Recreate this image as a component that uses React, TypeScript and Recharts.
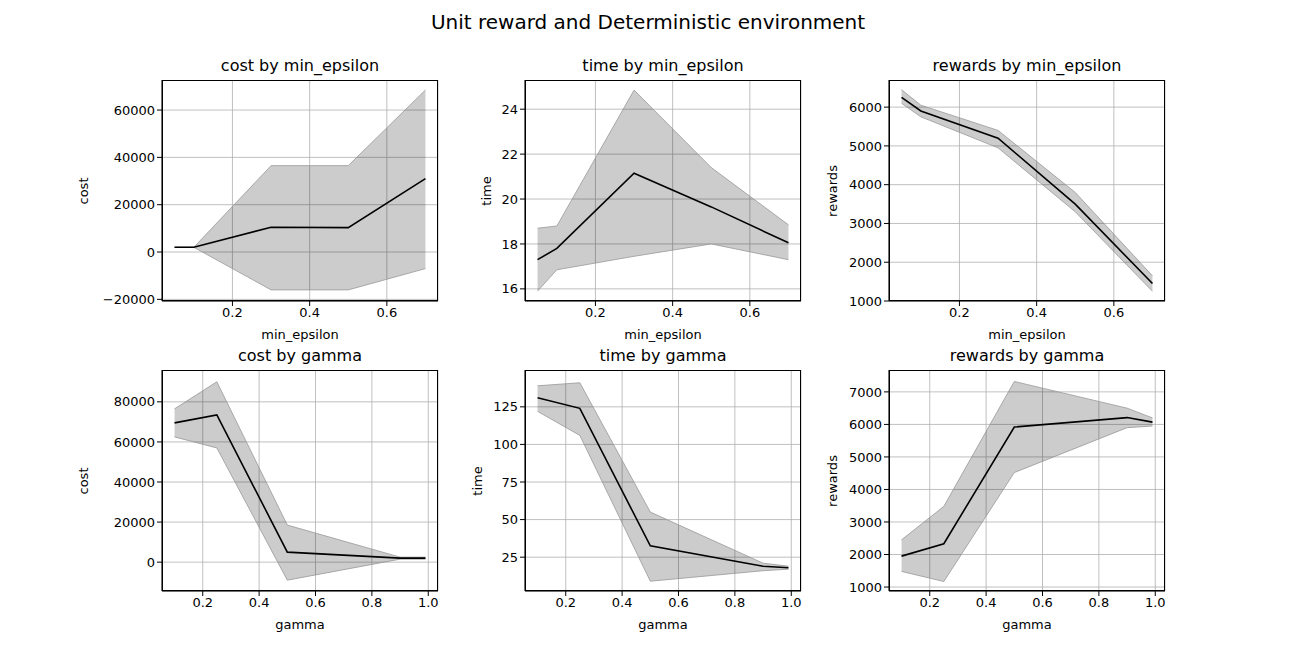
import { Area, CartesianGrid, ComposedChart, Line, XAxis, YAxis } from "recharts";

const EPS = [0.05, 0.1, 0.3, 0.5, 0.7];
const GAMMA = [0.1, 0.25, 0.5, 0.9, 0.99];

const COST_EPS_MEAN = [2000, 2000, 10500, 10300, 31000];
const COST_EPS_LO = [2000, 2000, -16000, -16000, -7000];
const COST_EPS_HI = [2000, 2000, 36500, 36500, 68500];

const TIME_EPS_MEAN = [17.3, 17.8, 21.15, 19.65, 18.05];
const TIME_EPS_LO = [15.9, 16.85, 17.45, 18.0, 17.3];
const TIME_EPS_HI = [18.7, 18.8, 24.85, 21.4, 18.85];

const REW_EPS_MEAN = [6250, 5900, 5200, 3500, 1450];
const REW_EPS_LO = [6100, 5750, 4950, 3300, 1250];
const REW_EPS_HI = [6450, 6050, 5400, 3800, 1650];

const COST_G_MEAN = [69500, 73500, 5000, 2000, 2000];
const COST_G_LO = [62500, 57000, -9000, 1500, 1500];
const COST_G_HI = [76500, 90000, 18500, 2500, 2500];

const TIME_G_MEAN = [131, 124, 32.5, 19, 18];
const TIME_G_LO = [122, 106, 9, 16, 17];
const TIME_G_HI = [139, 141, 55, 21, 19];

const REW_G_MEAN = [1950, 2330, 5920, 6210, 6070];
const REW_G_LO = [1480, 1170, 4520, 5900, 5950];
const REW_G_HI = [2450, 3480, 7320, 6500, 6200];

const EPS_TICKS = [0.2, 0.4, 0.6];
const GAMMA_TICKS = [0.2, 0.4, 0.6, 0.8, 1.0];

const FONT = "DejaVu Sans, sans-serif";

type Panel = {
  title: string;
  xLabel: string;
  yLabel: string;
  xs: number[];
  mean: number[];
  lo: number[];
  hi: number[];
  xDomain: [number, number];
  xTicks: number[];
  yDomain: [number, number];
  yTicks: number[];
  left: number;
  top: number;
  yLabelX: number;
};

const panels: Panel[] = [
  { title: "cost by min_epsilon", xLabel: "min_epsilon", yLabel: "cost", xs: EPS, mean: COST_EPS_MEAN, lo: COST_EPS_LO, hi: COST_EPS_HI, xDomain: [0.0175, 0.7325], xTicks: EPS_TICKS, yDomain: [-20700, 72700], yTicks: [-20000, 0, 20000, 40000, 60000], left: 162, top: 80, yLabelX: 83 },
  { title: "time by min_epsilon", xLabel: "min_epsilon", yLabel: "time", xs: EPS, mean: TIME_EPS_MEAN, lo: TIME_EPS_LO, hi: TIME_EPS_HI, xDomain: [0.0175, 0.7325], xTicks: EPS_TICKS, yDomain: [15.46, 25.3], yTicks: [16, 18, 20, 22, 24], left: 525, top: 80, yLabelX: 486 },
  { title: "rewards by min_epsilon", xLabel: "min_epsilon", yLabel: "rewards", xs: EPS, mean: REW_EPS_MEAN, lo: REW_EPS_LO, hi: REW_EPS_HI, xDomain: [0.0175, 0.7325], xTicks: EPS_TICKS, yDomain: [1000, 6700], yTicks: [1000, 2000, 3000, 4000, 5000, 6000], left: 889, top: 80, yLabelX: 832 },
  { title: "cost by gamma", xLabel: "gamma", yLabel: "cost", xs: GAMMA, mean: COST_G_MEAN, lo: COST_G_LO, hi: COST_G_HI, xDomain: [0.0555, 1.0345], xTicks: GAMMA_TICKS, yDomain: [-14400, 95900], yTicks: [0, 20000, 40000, 60000, 80000], left: 162, top: 370, yLabelX: 83 },
  { title: "time by gamma", xLabel: "gamma", yLabel: "time", xs: GAMMA, mean: TIME_G_MEAN, lo: TIME_G_LO, hi: TIME_G_HI, xDomain: [0.0555, 1.0345], xTicks: GAMMA_TICKS, yDomain: [2.5, 149.5], yTicks: [25, 50, 75, 100, 125], left: 525, top: 370, yLabelX: 477 },
  { title: "rewards by gamma", xLabel: "gamma", yLabel: "rewards", xs: GAMMA, mean: REW_G_MEAN, lo: REW_G_LO, hi: REW_G_HI, xDomain: [0.0555, 1.0345], xTicks: GAMMA_TICKS, yDomain: [878, 7673], yTicks: [1000, 2000, 3000, 4000, 5000, 6000, 7000], left: 889, top: 370, yLabelX: 832 },
];

const PW = 276;
const PH = 221;
const YW = 80;
const XH = 30;

const fmtY = (v: number) => (v < 0 ? "\u2212" + Math.abs(v) : String(v));

function SubPlot({ p }: { p: Panel }) {
  const data = p.xs.map((x, i) => ({ x, mean: p.mean[i], band: [p.lo[i], p.hi[i]] }));
  const tick = { fill: "#000", fontSize: 13, fontFamily: FONT };
  return (
    <>
      <div style={{ position: "absolute", left: p.left, top: p.top - 24, width: PW, textAlign: "center", fontSize: 16, fontFamily: FONT }}>
        {p.title}
      </div>
      <div style={{ position: "absolute", left: p.left - YW, top: p.top }}>
        <ComposedChart width={YW + PW + 10} height={PH + XH} data={data} margin={{ top: 0, right: 10, bottom: 0, left: 0 }}>
          <CartesianGrid stroke="#b0b0b0" strokeWidth={0.8} />
          <XAxis dataKey="x" type="number" domain={p.xDomain} ticks={p.xTicks} allowDataOverflow height={XH}
            tick={tick} tickFormatter={(v: number) => v.toFixed(1)} tickSize={5} stroke="#000" />
          <YAxis type="number" domain={p.yDomain} ticks={p.yTicks} allowDataOverflow width={YW}
            tick={tick} tickFormatter={fmtY} tickSize={5} stroke="#000" />
          <Area dataKey="band" type="linear" fill="#000" fillOpacity={0.2} stroke="#999" strokeOpacity={0.8} strokeWidth={1} isAnimationActive={false} />
          <Line dataKey="mean" type="linear" stroke="#000" strokeWidth={1.6} dot={false} isAnimationActive={false} />
        </ComposedChart>
      </div>
      <div style={{ position: "absolute", left: p.left, top: p.top, width: PW, height: PH, border: "1px solid #000", boxSizing: "border-box", pointerEvents: "none" }} />
      <div style={{ position: "absolute", left: p.left, top: p.top + PH + 26, width: PW, textAlign: "center", fontSize: 13, fontFamily: FONT }}>
        {p.xLabel}
      </div>
      <div style={{ position: "absolute", left: p.yLabelX, top: p.top + PH / 2, fontSize: 13, fontFamily: FONT, transform: "translate(-50%, -50%) rotate(-90deg)", whiteSpace: "nowrap" }}>
        {p.yLabel}
      </div>
    </>
  );
}

export default function App() {
  return (
    <div style={{ position: "absolute", left: 0, top: 0, width: 1296, height: 665, background: "#fff" }}>
      <div style={{ position: "absolute", left: 0, top: 10, width: 1296, textAlign: "center", fontSize: 20, fontFamily: FONT }}>
        Unit reward and Deterministic environment
      </div>
      {panels.map((p) => (
        <SubPlot key={p.title} p={p} />
      ))}
    </div>
  );
}
